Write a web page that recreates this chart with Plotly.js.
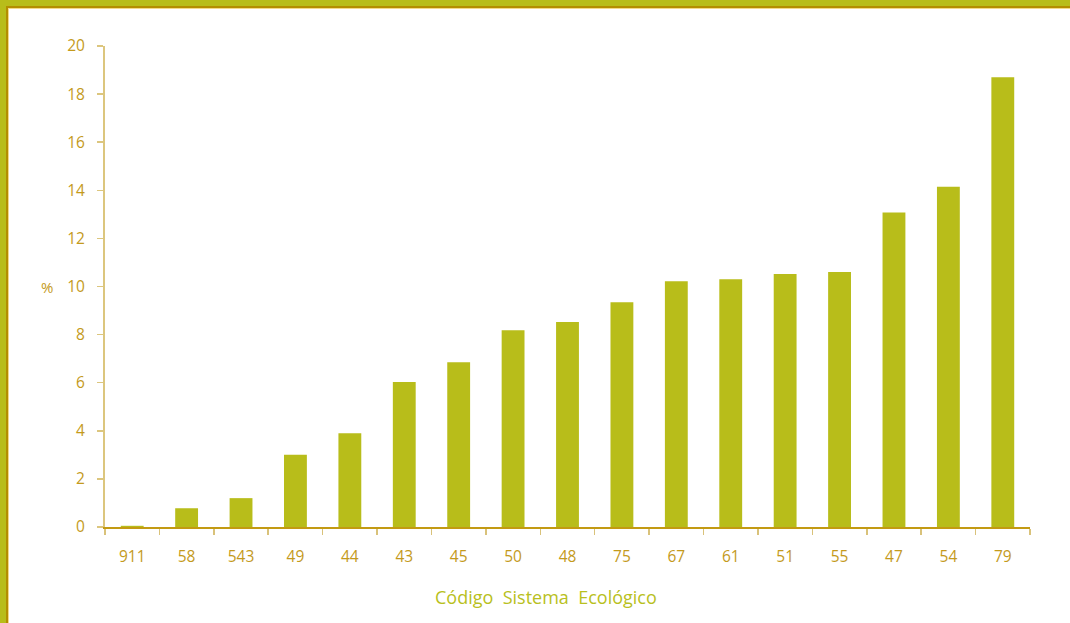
<!DOCTYPE html>
<html>
<head>
<meta charset="utf-8">
<script src="https://cdn.plot.ly/plotly-3.0.1.min.js"></script>
<style>
  html, body { margin: 0; padding: 0; background: #ffffff; }
  #wrap { position: relative; width: 1070px; height: 623px; overflow: hidden; }
  #chart { position: absolute; left: 0; top: 0; width: 1070px; height: 623px; }
  .b { position: absolute; }
</style>
</head>
<body>
<div id="wrap">
  <div id="chart"></div>
  <div class="b" style="left:0;top:0;width:1070px;height:6px;background:#b8bd1a"></div>
  <div class="b" style="left:6px;top:6px;width:1064px;height:2px;background:#b38e00"></div>
  <div class="b" style="left:8px;top:8px;width:1062px;height:1px;background:#f3d98a"></div>
  <div class="b" style="left:0;top:0;width:6px;height:623px;background:#b8bd1a"></div>
  <div class="b" style="left:6px;top:6px;width:2px;height:617px;background:#b38e00"></div>
  <div class="b" style="left:8px;top:8px;width:1px;height:615px;background:#f3d98a"></div>
</div>
<script>
const categories = ["911","58","543","49","44","43","45","50","48","75","67","61","51","55","47","54","79"];
const values = [0.05, 0.78, 1.2, 3.0, 3.9, 6.03, 6.85, 8.18, 8.52, 9.35, 10.22, 10.3, 10.52, 10.6, 13.08, 14.15, 18.7];
const yTicks = [0, 2, 4, 6, 8, 10, 12, 14, 16, 18, 20];

const gold = "#c49a1c";
const olive = "#b8bd1a";

Plotly.newPlot("chart", [{
  type: "bar",
  x: categories,
  y: values,
  width: 0.42,
  marker: { color: olive, line: { width: 0 } },
  hoverinfo: "x+y"
}], {
  width: 1070,
  height: 623,
  margin: { l: 105, r: 40, t: 46, b: 96 },
  paper_bgcolor: "#ffffff",
  plot_bgcolor: "#ffffff",
  showlegend: false,
  font: { family: "Open Sans, sans-serif", color: gold, size: 15.5 },
  xaxis: {
    type: "category",
    showgrid: false,
    zeroline: false,
    showline: true,
    linecolor: "#c39a12",
    linewidth: 2,
    ticks: "outside",
    tickson: "boundaries",
    ticklen: 6,
    tickwidth: 1.5,
    tickcolor: "#d9c27a",
    ticklabelstandoff: 14,
    tickfont: { size: 15.5, color: gold }
  },
  yaxis: {
    range: [0, 20],
    tickvals: yTicks,
    showgrid: false,
    zeroline: false,
    showline: true,
    linecolor: "#dcc67e",
    linewidth: 2,
    ticks: "outside",
    ticklen: 6,
    tickwidth: 1.5,
    tickcolor: "#dcc67e",
    ticklabelstandoff: 9,
    tickfont: { size: 15.5, color: gold }
  },
  annotations: [
    { text: "%", xref: "paper", yref: "paper", x: -0.063, y: 0.5, xanchor: "center", yanchor: "middle",
      showarrow: false, font: { size: 15, color: gold } },
    { text: "Código  Sistema  Ecológico", xref: "paper", yref: "paper", x: 0.477, y: -0.146,
      xanchor: "center", yanchor: "middle", showarrow: false, font: { size: 18, color: "#b8c020" } }
  ]
}, { displayModeBar: false, staticPlot: true });
</script>
</body>
</html>
